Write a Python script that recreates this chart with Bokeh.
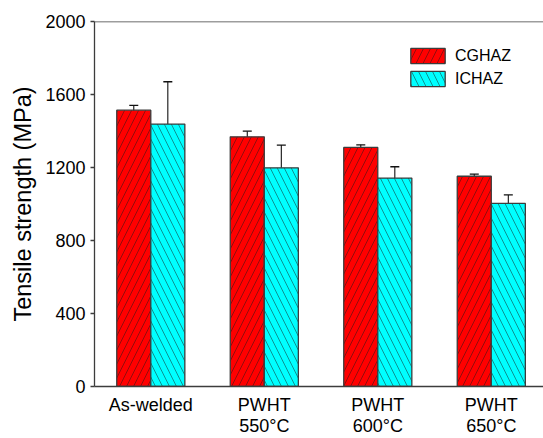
import numpy as np
from bokeh.plotting import figure
from bokeh.models import (ColumnDataSource, Range1d, FixedTicker, LinearAxis,
                          Whisker, TeeHead, Span, Legend, LegendItem)
from bokeh.embed import file_html
from bokeh.resources import INLINE

# ---- data ----
categories = ["As-welded", "PWHT 550°C", "PWHT 600°C", "PWHT 650°C"]
label_line1 = ["As-welded", "PWHT", "PWHT", "PWHT"]
label_line2 = ["", "550°C", "600°C", "650°C"]
cghaz = [1514, 1368, 1310, 1152]
cghaz_low = [1489, 1350, 1282, 1145]
cghaz_high = [1540, 1399, 1324, 1164]
ichaz = [1438, 1198, 1142, 1003]
ichaz_low = [1319, 994, 1090, 939]
ichaz_high = [1670, 1323, 1204, 1050]
y_ticks = [0, 400, 800, 1200, 1600, 2000]

FONT = "Liberation Sans"
AX = "#3c3c3c"

idx = np.arange(len(categories))
bar_w = 0.3
src_cg = ColumnDataSource(dict(x=idx - bar_w / 2, top=cghaz, lo=cghaz_low, hi=cghaz_high))
src_ic = ColumnDataSource(dict(x=idx + bar_w / 2, top=ichaz, lo=ichaz_low, hi=ichaz_high))

p = figure(width=543, height=438, output_backend="svg", toolbar_location=None,
           x_range=Range1d(-0.496, 3.46), y_range=Range1d(0, 2000),
           min_border_left=94, min_border_right=0, min_border_top=21, min_border_bottom=52)
p.outline_line_color = None
p.xgrid.visible = False
p.ygrid.visible = False
p.background_fill_color = "white"
p.border_fill_color = "white"

r_cg = p.vbar(x="x", top="top", width=bar_w, bottom=0, source=src_cg,
              fill_color="#ff0000", line_color=AX, line_width=1.3,
              hatch_pattern="right_diagonal_line", hatch_color="#1a1a1a",
              hatch_alpha=0.8, hatch_weight=0.6, hatch_scale=14)
r_ic = p.vbar(x="x", top="top", width=bar_w, bottom=0, source=src_ic,
              fill_color="#00ffff", line_color=AX, line_width=1.3,
              hatch_pattern="left_diagonal_line", hatch_color="#1a1a1a",
              hatch_alpha=0.8, hatch_weight=0.6, hatch_scale=14)

for src in (src_cg, src_ic):
    w = Whisker(source=src, base="x", upper="hi", lower="lo",
                line_color="#111111", line_width=1.1,
                upper_head=TeeHead(size=9, line_color="#111111", line_width=1.3),
                lower_head=TeeHead(size=9, line_color="#111111", line_width=1.3))
    p.add_layout(w)

# top frame line
p.add_layout(Span(location=2000, dimension="width", line_color=AX, line_width=1.3))

# y axis
p.yaxis.ticker = FixedTicker(ticks=y_ticks)
p.yaxis.axis_label = "Tensile strength (MPa)"
p.yaxis.axis_label_text_font = FONT
p.yaxis.axis_label_text_font_size = "23.5px"
p.yaxis.axis_label_text_font_style = "normal"
p.yaxis.axis_label_text_color = "black"
p.yaxis.axis_label_standoff = 6
p.yaxis.major_label_text_font = FONT
p.yaxis.major_label_text_font_size = "18px"
p.yaxis.major_label_text_color = "black"
p.yaxis.major_label_standoff = 5
p.yaxis.major_tick_out = 4
p.yaxis.major_tick_in = 0
p.yaxis.minor_tick_out = 0
p.yaxis.minor_tick_in = 0
p.yaxis.axis_line_color = AX
p.yaxis.axis_line_width = 1.3
p.yaxis.major_tick_line_color = AX
p.yaxis.major_tick_line_width = 1.3

# x axis (first line of labels)
xt = FixedTicker(ticks=list(idx))
p.xaxis.ticker = xt
p.xaxis.major_label_overrides = {int(i): t for i, t in zip(idx, label_line1)}
p.xaxis.major_label_text_font = FONT
p.xaxis.major_label_text_font_size = "18px"
p.xaxis.major_label_text_color = "black"
p.xaxis.major_label_standoff = 8
p.xaxis.major_tick_out = 0
p.xaxis.major_tick_in = 0
p.xaxis.minor_tick_out = 0
p.xaxis.minor_tick_in = 0
p.xaxis.axis_line_color = AX
p.xaxis.axis_line_width = 1.3

# second line of category labels
ax2 = LinearAxis(ticker=FixedTicker(ticks=list(idx)),
                 major_label_overrides={int(i): t for i, t in zip(idx, label_line2)},
                 major_label_text_font=FONT, major_label_text_font_size="18px",
                 major_label_text_color="black",
                 major_label_standoff=-2,
                 major_tick_out=0, major_tick_in=0, minor_tick_out=0, minor_tick_in=0,
                 axis_line_color=None)
p.add_layout(ax2, "below")

legend = Legend(items=[LegendItem(label="CGHAZ", renderers=[r_cg]),
                       LegendItem(label="ICHAZ", renderers=[r_ic])],
                location=(312, 298), orientation="vertical",
                glyph_width=43, glyph_height=19, label_height=19, spacing=4,
                padding=0, margin=0, label_standoff=6,
                label_text_font=FONT, label_text_font_size="16px",
                label_text_color="black",
                border_line_color=None, background_fill_alpha=0)
p.add_layout(legend)

open("out.html", "w").write(file_html(p, INLINE))
